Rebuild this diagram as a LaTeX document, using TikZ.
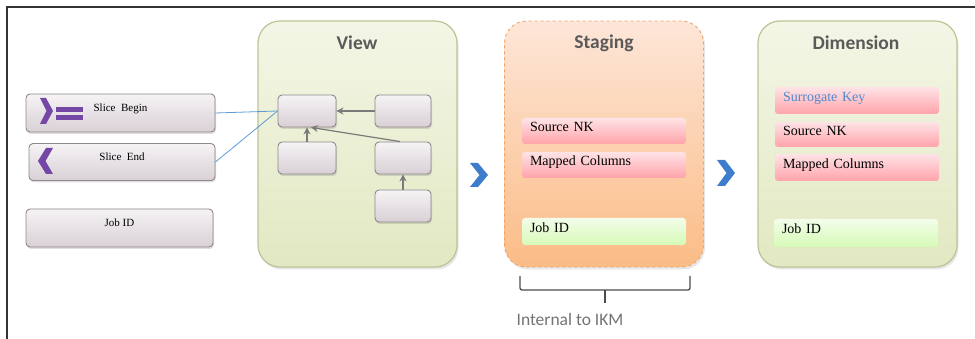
\documentclass[tikz,border=0pt]{standalone}
\usepackage{fontspec}
\setmainfont{Liberation Serif}
\newfontfamily\titlefont{Carlito}
\usetikzlibrary{shadows,arrows.meta}
\definecolor{boxtop}{HTML}{F6F3F5}
\definecolor{boxbot}{HTML}{D8D0D5}
\definecolor{boxline}{HTML}{8E878B}
\definecolor{viewtop}{HTML}{F4F6E6}
\definecolor{viewbot}{HTML}{E2E8C2}
\definecolor{viewline}{HTML}{BCC496}
\definecolor{stagetop}{HTML}{FDE6D8}
\definecolor{stagebot}{HTML}{FBBC86}
\definecolor{stageline}{HTML}{F0A264}
\definecolor{pinktop}{HTML}{FEE3E6}
\definecolor{pinkbot}{HTML}{FFA3AA}
\definecolor{greentop}{HTML}{F3FDEB}
\definecolor{greenbot}{HTML}{D6FAB6}
\definecolor{chevblue}{HTML}{3E7DCB}
\definecolor{linkblue}{HTML}{5B9BD5}
\definecolor{purp}{HTML}{7446A6}
\definecolor{titlegray}{HTML}{5A5A5A}
\definecolor{arrgray}{HTML}{7A7A7A}
\tikzset{
  leftbox/.style={draw=boxline, line width=0.9pt, rounded corners=4pt,
    top color=boxtop, bottom color=boxbot,
    drop shadow={shadow xshift=1pt, shadow yshift=-2pt, opacity=0.25},
    font=\fontsize{11}{13}\selectfont, text height=8pt, text depth=10pt},
  smallbox/.style={draw=boxline, line width=0.9pt, rounded corners=4pt,
    top color=boxtop, bottom color=boxbot,
    drop shadow={shadow xshift=1pt, shadow yshift=-2pt, opacity=0.25}},
  container/.style={rounded corners=22pt, line width=1.2pt,
    minimum width=199pt, minimum height=246pt,
    drop shadow={shadow xshift=1.5pt, shadow yshift=-2.5pt, opacity=0.2}},
  ctitle/.style={font=\titlefont\bfseries\fontsize{19.5}{22}\selectfont, text=titlegray},
  row/.style={rounded corners=3pt, text width=148pt, align=left, inner xsep=8pt,
    font=\fontsize{14}{16}\selectfont, text height=9pt, text depth=7pt},
  pinkrow/.style={row, top color=pinktop, bottom color=pinkbot},
  greenrow/.style={row, top color=greentop, bottom color=greenbot},
  link/.style={draw=linkblue, line width=0.8pt},
  garrow/.style={draw=arrgray, line width=1.2pt, -{Stealth[length=7pt,width=7pt]}},
}
\begin{document}
\begin{tikzpicture}[x=1pt,y=-1pt]
\useasboundingbox (0,0) rectangle (975,339);
% frame
\draw[line width=1.4pt, draw=black!80] (7,339) -- (7,7) -- (975,7);

% left boxes
\node[leftbox, minimum width=189pt, minimum height=38pt] (sb) at (120.5,113) {Slice\ \ Begin};
\node[leftbox, minimum width=186pt, minimum height=37pt] (se) at (122,162) {Slice\ \ End};
\node[leftbox, minimum width=187pt, minimum height=38pt] (jb) at (119.5,228) {Job ID};
% purple icons
\fill[purp] (40,98) -- (46,98) -- (53,111) -- (46,124) -- (40,124) -- (46.5,111) -- cycle;
\fill[purp] (56,107.5) rectangle (83,112.5);
\fill[purp] (56,115.5) rectangle (83,120.5);
\fill[purp] (53,148) -- (46,148) -- (38,161) -- (46,174) -- (53,174) -- (45.5,161) -- cycle;

% containers
\node[container, draw=viewline, top color=viewtop, bottom color=viewbot] (view) at (357.5,144) {};
\node[container, draw=stageline, dashed, line width=0.9pt, top color=stagetop, bottom color=stagebot] (stage) at (604,144) {};
\node[container, draw=viewline, top color=viewtop, bottom color=viewbot] (dim) at (857.5,144) {};
\node[ctitle] (viewt) at (357,43) {View};
\node[ctitle] (staget) at (604,43) {Staging};
\node[ctitle] (dimt) at (856,43) {Dimension};

% view small boxes
\node[smallbox, minimum width=58pt, minimum height=32pt] (a) at (307,111) {};
\node[smallbox, minimum width=56pt, minimum height=32pt] (b) at (403,111) {};
\node[smallbox, minimum width=58pt, minimum height=32pt] (c) at (307,158) {};
\node[smallbox, minimum width=56pt, minimum height=32pt] (d) at (403,158) {};
\node[smallbox, minimum width=56pt, minimum height=32pt] (e) at (403,206) {};
\draw[garrow] (b.west) -- (a.east);
\draw[garrow] (c.north) -- (a.south);
\draw[garrow] ([xshift=-3pt]d.north) -- ([xshift=4pt]a.south);
\draw[garrow] (e.north) -- (d.south);

% blue links
\draw[link] (sb.east) -- (a.west);
\draw[link] (se.east) -- (a.west);

% chevrons
\fill[chevblue] (470,163) -- (478,163) -- (488,175) -- (478,187) -- (470,187) -- (479.5,175) -- cycle;
\fill[chevblue] (717,160) -- (725,160) -- (735,173) -- (725,186) -- (717,186) -- (726.5,173) -- cycle;

% staging rows
\node[pinkrow, minimum height=26pt] (snk) at (604,131) {Source NK};
\node[pinkrow, minimum height=26pt] (smc) at (604,165) {Mapped Columns};
\node[greenrow, minimum height=27pt] (sjob) at (604,231.5) {Job ID};

% dimension rows
\node[pinkrow, minimum height=27pt, text=chevblue!90!white] (dsk) at (857,100.5) {Surrogate Key};
\node[pinkrow, minimum height=25pt] (dnk) at (857,134.5) {Source NK};
\node[pinkrow, minimum height=27pt] (dmc) at (857,167.5) {Mapped Columns};
\node[greenrow, minimum height=28pt] (djob) at (856,233) {Job ID};

% brace
\coordinate (bl) at (520,276);
\coordinate (br) at (690,276);
\coordinate (bm) at (605,290);
\coordinate (bt) at (605,303);
\draw[draw=black!70, line width=1.3pt, rounded corners=2pt] (bl) |- (bm) -| (br);
\draw[draw=black!70, line width=1.3pt] (bm) -- (bt);
\node[font=\titlefont\fontsize{17.5}{20}\selectfont, text=black!55] (ikm) at (570,319) {Internal to IKM};
\end{tikzpicture}
\end{document}
